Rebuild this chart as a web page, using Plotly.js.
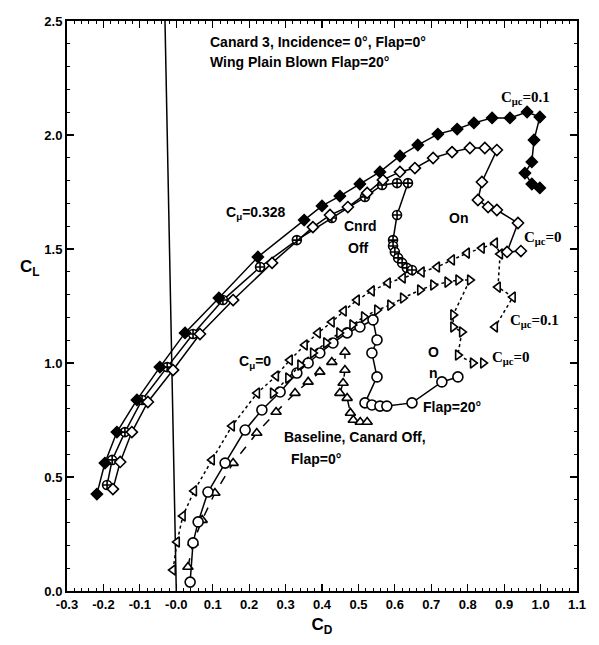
<!DOCTYPE html>
<html>
<head>
<meta charset="utf-8">
<script src="https://cdn.plot.ly/plotly-3.0.1.min.js"></script>
<style>html,body{margin:0;padding:0;background:#fff;}#chart{width:599px;height:645px;}</style>
</head>
<body>
<div id="chart"></div>
<script>
// ---- data (CD, CL) ----
var filledDiamondCD = [-0.218,-0.196,-0.163,-0.108,-0.045,0.024,0.117,0.224,0.351,0.400,0.449,0.504,0.559,0.614,0.663,0.718,0.771,0.817,0.867,0.916,0.963,0.998,0.982,0.976,0.957,0.976,0.998];
var filledDiamondCL = [0.425,0.561,0.697,0.838,0.982,1.132,1.285,1.465,1.627,1.689,1.732,1.785,1.838,1.908,1.956,2.004,2.026,2.053,2.075,2.075,2.101,2.079,1.978,1.882,1.833,1.785,1.768];

var openDiamondCD = [-0.174,-0.154,-0.122,-0.078,-0.009,0.065,0.156,0.263,0.375,0.422,0.471,0.524,0.567,0.614,0.655,0.705,0.757,0.806,0.847,0.880,0.839,0.828,0.856,0.880,0.938,0.908,0.946];
var openDiamondCL = [0.447,0.566,0.697,0.829,0.969,1.127,1.276,1.439,1.596,1.649,1.684,1.746,1.803,1.838,1.855,1.899,1.925,1.943,1.943,1.934,1.794,1.715,1.684,1.671,1.614,1.487,1.491];

var crossCircleCD = [-0.190,-0.176,-0.141,-0.094,-0.025,0.046,0.128,0.230,0.331,0.427,0.518,0.565,0.606,0.636,0.606,0.595,0.595,0.600,0.609,0.620,0.633,0.647];
var crossCircleCL = [0.465,0.575,0.697,0.838,0.982,1.127,1.276,1.421,1.539,1.636,1.728,1.781,1.789,1.789,1.649,1.539,1.513,1.487,1.461,1.439,1.417,1.408];

var leftTriCD = [-0.009,0.002,0.018,0.049,0.098,0.153,0.222,0.274,0.312,0.353,0.389,0.427,0.460,0.496,0.537,0.581,0.622,0.674,0.716,0.757,0.798,0.839,0.875,0.889,0.883,0.924,0.875];
var leftTriCL = [0.092,0.215,0.329,0.439,0.575,0.724,0.868,0.943,1.013,1.079,1.132,1.180,1.228,1.276,1.316,1.351,1.373,1.399,1.421,1.452,1.482,1.504,1.526,1.478,1.333,1.289,1.158];

var rightTriCD = [0.265,0.307,0.340,0.375,0.411,0.447,0.483,0.515,0.551,0.587,0.622,0.669,0.705,0.744,0.774,0.806,0.760,0.760,0.784,0.773,0.814,0.842];
var rightTriCL = [0.868,0.934,0.991,1.044,1.088,1.132,1.167,1.202,1.232,1.254,1.285,1.320,1.342,1.355,1.364,1.364,1.211,1.158,1.136,1.035,1.000,1.000];

var circleCD = [0.038,0.046,0.060,0.087,0.134,0.189,0.235,0.285,0.331,0.362,0.394,0.430,0.469,0.504,0.540,0.551,0.537,0.551,0.518,0.537,0.559,0.578,0.647,0.729,0.773];
var circleCL = [0.039,0.211,0.303,0.434,0.561,0.706,0.794,0.873,0.956,1.000,1.044,1.088,1.132,1.158,1.189,1.101,1.044,0.939,0.825,0.816,0.811,0.811,0.825,0.917,0.939];

var upTriCD = [0.032,0.046,0.071,0.106,0.156,0.221,0.274,0.326,0.362,0.394,0.427,0.463,0.463,0.458,0.449,0.469,0.478,0.486,0.505,0.524];
var upTriCL = [0.105,0.211,0.311,0.430,0.561,0.693,0.785,0.868,0.917,0.961,1.004,1.048,0.969,0.912,0.868,0.846,0.781,0.750,0.741,0.741];

var refLineCD = [-0.031, 0.0];
var refLineCL = [2.5, 0.0];

var xTickVals = [-0.3,-0.2,-0.1,0.0,0.1,0.2,0.3,0.4,0.5,0.6,0.7,0.8,0.9,1.0,1.1];
var xTickText = ["-0.3","-0.2","-0.1","-0.0","0.1","0.2","0.3","0.4","0.5","0.6","0.7","0.8","0.9","1.0","1.1"];
var yTickVals = [0.0,0.5,1.0,1.5,2.0,2.5];
var yTickText = ["0.0","0.5","1.0","1.5","2.0","2.5"];

var X_RANGE = [-0.3, 1.1];
var Y_RANGE = [0, 2.5];

// ---- traces ----
function series(x, y, symbol, fill, dash, size) {
  return {
    x: x, y: y, type: 'scatter', mode: 'lines+markers',
    line: {color: '#000', width: 1.5, dash: dash},
    marker: {symbol: symbol, size: size, color: fill, line: {color: '#000', width: 1.6}},
    hoverinfo: 'skip', showlegend: false
  };
}
var traces = [
  {x: refLineCD, y: refLineCL, type: 'scatter', mode: 'lines', line: {color: '#000', width: 1.5}, showlegend: false, hoverinfo: 'skip'},
  series(upTriCD, upTriCL, 'triangle-up', '#fff', 'dash', 9),
  series(circleCD, circleCL, 'circle', '#fff', 'solid', 10),
  series(rightTriCD, rightTriCL, 'triangle-right', '#fff', 'dot', 9),
  series(leftTriCD, leftTriCL, 'triangle-left', '#fff', 'dot', 9),
  series(crossCircleCD, crossCircleCL, 'circle-cross', '#fff', 'solid', 9),
  series(openDiamondCD, openDiamondCL, 'diamond', '#fff', 'solid', 8.5),
  series(filledDiamondCD, filledDiamondCL, 'diamond', '#000', 'solid', 8.5)
];

var SANS = 'Liberation Sans, Arial, sans-serif';
var SERIF = 'Liberation Serif, Times New Roman, serif';

// label placed at a position given in axis units, converted to paper fractions
function ann(text, px, py, serif, xanchor) {
  return {text: serif ? text : '<b>' + text + '</b>',
    x: (px - X_RANGE[0]) / (X_RANGE[1] - X_RANGE[0]),
    y: (py - Y_RANGE[0]) / (Y_RANGE[1] - Y_RANGE[0]),
    xref: 'paper', yref: 'paper', showarrow: false,
    font: serif ? {family: SERIF, size: 15, color: '#000'} : {family: SANS, size: 14, color: '#000'},
    xanchor: xanchor || 'left', yanchor: 'middle'};
}
var annotations = [
  ann('Canard 3, Incidence= 0°, Flap=0°', 0.088, 2.408),
  ann('Wing Plain Blown Flap=20°', 0.088, 2.320),
  ann('C<sub>μc</sub>=0.1', 0.885, 2.162, true),
  ann('C<sub>μ</sub>=0.328', 0.132, 1.658),
  ann('Cnrd', 0.455, 1.601),
  ann('Off', 0.466, 1.504),
  ann('On', 0.743, 1.636),
  ann('C<sub>μc</sub>=0', 0.949, 1.548, true),
  ann('C<sub>μc</sub>=0.1', 0.911, 1.184, true),
  ann('O', 0.705, 1.048, false, 'center'),
  ann('n', 0.705, 0.956, false, 'center'),
  ann('C<sub>μc</sub>=0', 0.861, 1.022, true),
  ann('C<sub>μ</sub>=0', 0.166, 1.004),
  ann('Flap=20°', 0.672, 0.807),
  ann('Baseline, Canard Off,', 0.290, 0.675),
  ann('Flap=0°', 0.310, 0.579),
  {text: 'C<sub>L</sub>', xref: 'paper', yref: 'paper', x: -0.073, y: 0.567, showarrow: false,
   font: {family: SANS, size: 17, weight: 'bold', color: '#000'}, xanchor: 'center', yanchor: 'middle'}
];

var layout = {
  width: 599, height: 645,
  margin: {l: 67, r: 22, t: 21, b: 54},
  paper_bgcolor: '#fff', plot_bgcolor: '#fff',
  showlegend: false,
  font: {family: SANS, size: 12, color: '#000', weight: 'bold'},
  xaxis: {
    range: X_RANGE, tickmode: 'array', tickvals: xTickVals, ticktext: xTickText,
    ticks: 'inside', ticklen: 7, tickwidth: 1.2, tickcolor: '#000',
    minor: {dtick: 0.02, ticks: 'inside', ticklen: 3, tickwidth: 1, tickcolor: '#000', showgrid: false},
    showline: true, linewidth: 2, linecolor: '#000', mirror: 'allticks',
    showgrid: false, zeroline: false,
    tickfont: {family: SANS, size: 13, weight: 'bold', color: '#000'},
    title: {text: 'C<sub>D</sub>', font: {family: SANS, size: 17, weight: 'bold', color: '#000'}, standoff: 8}
  },
  yaxis: {
    range: Y_RANGE, tickmode: 'array', tickvals: yTickVals, ticktext: yTickText,
    ticks: 'inside', ticklen: 7, tickwidth: 1.2, tickcolor: '#000',
    minor: {dtick: 0.1, ticks: 'inside', ticklen: 3, tickwidth: 1, tickcolor: '#000', showgrid: false},
    showline: true, linewidth: 2, linecolor: '#000', mirror: 'allticks',
    showgrid: false, zeroline: false,
    tickfont: {family: SANS, size: 13, weight: 'bold', color: '#000'}
  },
  annotations: annotations
};

Plotly.newPlot('chart', traces, layout, {displayModeBar: false, staticPlot: true});
</script>
</body>
</html>
